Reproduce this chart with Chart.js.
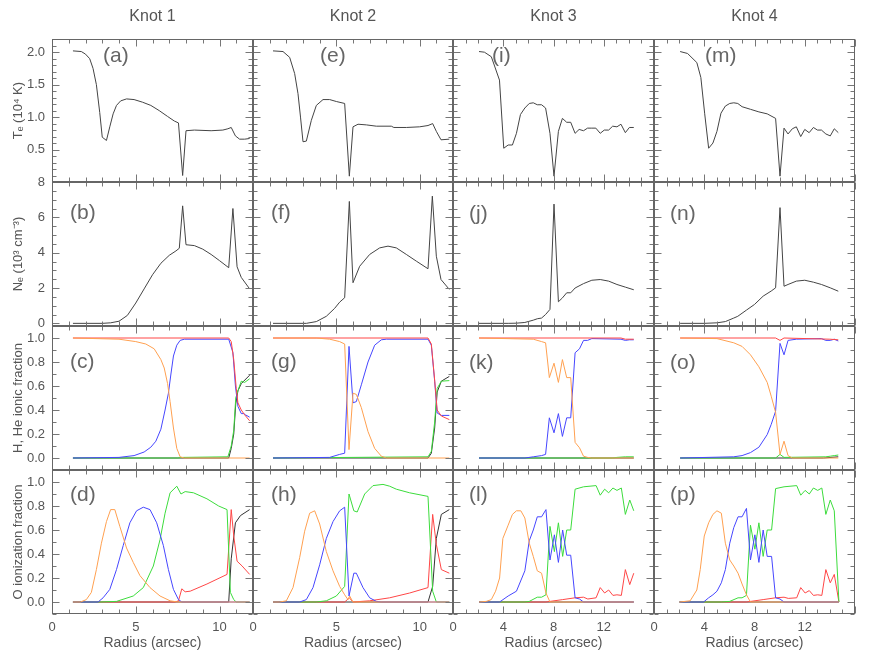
<!DOCTYPE html>
<html>
<head>
<meta charset="utf-8">
<script src="https://cdn.jsdelivr.net/npm/chart.js@4.4.1/dist/chart.umd.min.js"></script>
<style>
  body { margin: 0; background: #fff; }
  #wrap { position: relative; width: 872px; height: 654px; background: #fff; }
  #wrap canvas { position: absolute; }
</style>
</head>
<body>
<div id="wrap"></div>
<script>
// ---- data (radius in arcsec, value) ----
const knotNames = ['Knot 1', 'Knot 2', 'Knot 3', 'Knot 4'];
const panelLetters = [['(a)', '(b)', '(c)', '(d)'], ['(e)', '(f)', '(g)', '(h)'],
                      ['(i)', '(j)', '(k)', '(l)'], ['(m)', '(n)', '(o)', '(p)']];
const radiusMax = [12, 12, 16, 16];
const radiusTicks12 = [0, 5, 10];
const radiusTicks16 = [0, 4, 8, 12];
const teTicks = [0.5, 1.0, 1.5, 2.0];
const neTicks = [0, 2, 4, 6, 8];
const fracTicks = [0, 0.2, 0.4, 0.6, 0.8, 1.0];

// Knot 1
const k1Te = [[1.25,2.02],[1.75,2.01],[2.0,1.97],[2.25,1.9],[2.45,1.75],[2.65,1.5],[2.85,1.07],[3.0,0.69],[3.25,0.64],[3.45,0.85],[3.65,1.05],[3.85,1.18],[4.1,1.25],[4.45,1.28],[4.9,1.27],[5.4,1.23],[5.9,1.18],[6.4,1.1],[6.9,1.01],[7.3,0.94],[7.55,0.91],[7.8,0.1],[8.0,0.79],[8.5,0.8],[9.5,0.79],[10.2,0.8],[10.5,0.82],[10.7,0.84],[10.95,0.71],[11.2,0.66],[11.5,0.66],[11.8,0.67]];
const k1Ne = [[1.25,0],[3.0,0],[3.5,0.03],[4.0,0.12],[4.5,0.45],[5.0,1.15],[5.5,1.95],[6.0,2.75],[6.5,3.4],[7.0,3.85],[7.4,4.1],[7.6,4.25],[7.8,6.65],[8.0,4.45],[8.5,4.4],[9.0,4.2],[9.5,3.9],[10.0,3.55],[10.55,3.15],[10.8,6.5],[11.05,3.2],[11.3,2.6],[11.8,1.95]];
const k1HOrange = [[1.25,1],[4.0,0.99],[5.0,0.97],[5.6,0.95],[6.1,0.91],[6.5,0.82],[6.7,0.75],[6.9,0.62],[7.05,0.47],[7.25,0.25],[7.45,0.08],[7.65,0.01],[7.9,0],[11.8,0]];
const k1HBlue = [[1.25,0],[4.0,0.005],[4.9,0.02],[5.5,0.05],[5.9,0.09],[6.2,0.14],[6.5,0.24],[6.75,0.4],[6.95,0.54],[7.1,0.7],[7.25,0.85],[7.45,0.94],[7.65,0.98],[7.9,0.99],[10.55,0.99],[10.8,0.88],[10.95,0.6],[11.1,0.43],[11.3,0.37],[11.45,0.37],[11.55,0.36],[11.8,0.34]];
const k1HGreen = [[1.25,0],[7.5,0],[7.8,0.005],[10.5,0.01],[10.7,0.1],[10.85,0.23],[10.97,0.5],[11.1,0.56],[11.3,0.64],[11.5,0.63],[11.8,0.66]];
const k1HRed = [[1.25,1],[10.55,1],[10.7,0.97],[10.85,0.82],[11.0,0.58],[11.1,0.46],[11.3,0.4],[11.5,0.36],[11.8,0.31]];
const k1HBlack = [[1.25,0],[10.55,0],[10.7,0.08],[10.85,0.2],[10.97,0.45],[11.1,0.56],[11.3,0.62],[11.8,0.69]];
const k1OOrange = [[1.25,0],[1.7,0],[2.05,0.02],[2.35,0.08],[2.65,0.27],[2.95,0.49],[3.25,0.67],[3.5,0.77],[3.75,0.77],[4.05,0.63],[4.45,0.45],[4.85,0.33],[5.25,0.22],[5.85,0.12],[6.45,0.05],[7.05,0.01],[7.5,0],[11.8,0]];
const k1OBlue = [[1.25,0],[2.75,0],[3.05,0.035],[3.45,0.105],[3.85,0.27],[4.25,0.47],[4.65,0.66],[5.05,0.76],[5.45,0.79],[5.85,0.77],[6.25,0.66],[6.65,0.47],[6.95,0.27],[7.25,0.105],[7.55,0.02],[7.75,0],[11.8,0]];
const k1OGreen = [[1.25,0],[2.85,0],[3.85,0.005],[4.85,0.05],[5.45,0.12],[6.05,0.3],[6.45,0.52],[6.75,0.74],[7.05,0.91],[7.45,0.965],[7.7,0.9],[7.95,0.92],[8.45,0.91],[9.25,0.86],[9.95,0.8],[10.45,0.77],[10.65,0.08],[10.85,0.02],[11.0,0],[11.8,0]];
const k1ORed = [[1.25,0],[7.35,0],[7.55,0.01],[7.75,0.11],[7.95,0.085],[8.25,0.09],[9.25,0.15],[10.45,0.23],[10.7,0.77],[10.85,0.55],[11.05,0.34],[11.35,0.3],[11.8,0.23]];
const k1OBlack = [[1.25,0],[10.55,0],[10.7,0.36],[10.95,0.66],[11.25,0.72],[11.8,0.77]];

// Knot 2
const k2Te = [[1.2,2.02],[1.8,2.01],[2.2,1.92],[2.5,1.67],[2.7,1.36],[2.85,1.0],[3.0,0.62],[3.2,0.63],[3.5,0.95],[3.8,1.18],[4.2,1.27],[4.6,1.27],[5.0,1.24],[5.5,1.21],[5.78,0.09],[6.0,0.85],[6.3,0.89],[6.8,0.88],[7.4,0.86],[8.3,0.86],[8.45,0.84],[9.2,0.84],[10.0,0.85],[10.5,0.87],[10.78,0.9],[11.0,0.78],[11.28,0.65],[11.78,0.66]];
const k2Ne = [[1.2,0],[3.2,0],[3.8,0.1],[4.4,0.4],[4.9,0.85],[5.2,1.2],[5.5,1.45],[5.78,6.9],[6.0,2.3],[6.4,3.23],[7.0,3.9],[7.6,4.27],[8.1,4.37],[8.6,4.27],[9.2,3.9],[9.8,3.52],[10.5,3.09],[10.76,7.2],[11.0,3.8],[11.28,2.48],[11.78,1.92]];
const k2HOrange = [[1.2,1],[3.8,1],[4.6,0.99],[5.2,0.97],[5.5,0.95],[5.76,0.07],[6.0,0.54],[6.2,0.53],[6.5,0.42],[6.9,0.22],[7.3,0.08],[7.7,0.015],[8.0,0],[11.78,0]];
const k2HBlue = [[1.2,0],[4.6,0.005],[5.2,0.03],[5.5,0.04],[5.76,0.93],[6.0,0.46],[6.2,0.47],[6.5,0.61],[6.9,0.8],[7.3,0.94],[7.7,0.985],[8.0,0.99],[10.5,0.99],[10.7,0.94],[10.9,0.64],[11.05,0.375],[11.3,0.355],[11.78,0.355]];
const k2HGreen = [[1.2,0],[10.5,0.01],[10.7,0.055],[10.9,0.3],[11.05,0.58],[11.3,0.64],[11.78,0.645]];
const k2HRed = [[1.2,1],[10.5,1],[10.7,0.95],[10.9,0.65],[11.05,0.4],[11.3,0.35],[11.78,0.32]];
const k2HBlack = [[1.2,0],[10.5,0],[10.7,0.04],[10.9,0.25],[11.05,0.55],[11.3,0.64],[11.78,0.68]];
const k2OOrange = [[1.2,0],[1.6,0],[2.0,0.01],[2.4,0.12],[2.8,0.37],[3.1,0.59],[3.4,0.74],[3.7,0.76],[4.0,0.65],[4.4,0.42],[4.8,0.26],[5.2,0.13],[5.5,0.06],[5.7,0.02],[5.8,0.05],[6.0,0],[11.78,0]];
const k2OBlue = [[1.2,0],[2.8,0],[3.2,0.02],[3.6,0.12],[4.0,0.31],[4.4,0.53],[4.8,0.67],[5.2,0.76],[5.5,0.79],[5.76,0.05],[6.05,0.24],[6.2,0.24],[6.6,0.12],[7.0,0.035],[7.4,0.005],[7.7,0],[11.78,0]];
const k2OGreen = [[1.2,0],[3.8,0],[4.4,0.01],[5.0,0.05],[5.5,0.13],[5.76,0.9],[6.05,0.76],[6.25,0.75],[6.7,0.9],[7.2,0.97],[7.8,0.98],[8.2,0.965],[8.6,0.94],[9.4,0.91],[10.5,0.88],[10.78,0.09],[11.0,0],[11.78,0]];
const k2ORed = [[1.2,0],[5.5,0],[5.78,0.035],[6.0,0],[7.0,0.01],[8.2,0.035],[9.4,0.075],[10.5,0.12],[10.78,0.73],[11.0,0.48],[11.3,0.27],[11.78,0.24]];
const k2OBlack = [[1.2,0],[10.5,0],[10.78,0.13],[11.0,0.53],[11.3,0.73],[11.78,0.77]];

// Knot 3
const k3Te = [[2.07,2.01],[2.5,2.0],[3.05,1.93],[3.7,1.57],[4.04,0.52],[4.39,0.57],[4.73,0.57],[5.05,0.75],[5.37,1.04],[5.72,1.14],[6.07,1.21],[6.39,1.22],[6.71,1.19],[7.05,1.19],[7.37,1.14],[7.72,0.75],[8.04,0.09],[8.39,0.78],[8.71,0.98],[9.05,0.92],[9.37,0.92],[9.72,0.75],[10.04,0.81],[10.39,0.79],[10.71,0.83],[11.05,0.83],[11.37,0.83],[11.72,0.75],[12.04,0.8],[12.39,0.8],[12.71,0.86],[13.05,0.85],[13.37,0.89],[13.72,0.76],[14.04,0.84],[14.39,0.84]];
const k3Ne = [[2.07,0],[4.39,0],[5.05,0.01],[5.72,0.05],[6.39,0.18],[6.71,0.26],[7.05,0.3],[7.37,0.5],[7.72,0.79],[8.04,6.75],[8.39,1.22],[8.71,1.44],[9.05,1.73],[9.37,1.73],[9.72,2.0],[10.39,2.25],[11.05,2.44],[11.72,2.48],[12.39,2.39],[13.05,2.2],[13.72,2.05],[14.39,1.9]];
const k3HOrange = [[2.07,1],[6.39,0.99],[7.05,0.97],[7.37,0.96],[7.67,0.67],[8.04,0.79],[8.39,0.63],[8.71,0.82],[9.05,0.67],[9.37,0.67],[9.72,0.13],[10.07,0.085],[10.39,0.015],[10.71,0.005],[11.05,0],[14.39,0]];
const k3HBlue = [[2.07,0],[5.72,0],[6.39,0.01],[7.05,0.02],[7.37,0.03],[7.67,0.335],[8.04,0.21],[8.39,0.37],[8.71,0.18],[9.05,0.335],[9.37,0.335],[9.72,0.877],[10.07,0.91],[10.39,0.98],[10.71,0.98],[11.05,0.995],[13.37,0.99],[13.72,0.98],[14.04,0.985],[14.39,0.985]];
const k3HGreen = [[2.07,0],[12.7,0],[13.05,0.005],[13.72,0.01],[14.39,0.01]];
const k3HRed = [[2.07,1],[13.37,1],[13.72,0.99],[14.39,0.99]];
const k3HBlack = [[2.07,0],[14.39,0]];
const k3OOrange = [[2.07,0],[2.65,0.005],[3.05,0.02],[3.39,0.09],[3.71,0.2],[3.97,0.53],[4.39,0.64],[4.73,0.73],[5.05,0.76],[5.4,0.76],[5.72,0.7],[6.07,0.49],[6.39,0.38],[6.71,0.26],[7.05,0.24],[7.4,0.075],[7.72,0],[14.39,0]];
const k3OBlue = [[2.07,0],[3.71,0],[4.39,0.05],[5.05,0.09],[5.72,0.26],[6.07,0.51],[6.39,0.6],[6.71,0.71],[7.05,0.71],[7.4,0.77],[7.72,0.35],[8.07,0.56],[8.39,0.33],[8.73,0.6],[9.05,0.39],[9.37,0.39],[9.72,0.035],[10.07,0.025],[10.39,0],[14.39,0]];
const k3OGreen = [[2.07,0],[5.72,0],[6.07,0.005],[6.71,0.04],[7.05,0.04],[7.4,0.06],[7.72,0.63],[8.07,0.42],[8.39,0.66],[8.73,0.38],[9.05,0.6],[9.37,0.6],[9.72,0.94],[10.39,0.96],[11.39,0.97],[11.72,0.89],[12.07,0.94],[12.39,0.91],[12.73,0.95],[13.05,0.93],[13.4,0.95],[13.72,0.73],[14.07,0.85],[14.39,0.76]];
const k3ORed = [[2.07,0],[7.4,0],[7.72,0.005],[8.73,0.02],[9.72,0.035],[10.39,0.04],[10.73,0.025],[11.39,0.035],[11.72,0.12],[12.07,0.075],[12.39,0.1],[12.73,0.055],[13.05,0.06],[13.4,0.055],[13.72,0.27],[14.07,0.145],[14.39,0.24]];
const k3OBlack = [[2.07,0],[14.39,0]];

// Knot 4
const k4Te = [[2.08,2.01],[2.67,1.98],[3.41,1.84],[3.73,1.61],[4.03,1.06],[4.35,0.52],[4.69,0.6],[5.01,0.78],[5.33,1.06],[5.68,1.17],[6.03,1.21],[6.35,1.22],[6.67,1.21],[7.01,1.16],[7.68,1.12],[8.35,1.08],[9.01,1.05],[9.68,0.98],[10.03,0.09],[10.35,0.83],[10.67,0.74],[11.01,0.82],[11.33,0.85],[11.68,0.7],[12.0,0.81],[12.35,0.76],[12.69,0.84],[13.01,0.8],[13.33,0.8],[13.68,0.74],[14.03,0.71],[14.35,0.82],[14.67,0.76]];
const k4Ne = [[2.08,0],[4.0,0],[5.01,0.03],[5.68,0.1],[6.35,0.3],[6.67,0.4],[7.36,0.75],[8.0,1.07],[8.69,1.54],[9.33,1.83],[9.68,2.01],[10.03,6.55],[10.35,2.1],[10.67,2.2],[11.33,2.39],[12.0,2.44],[12.69,2.33],[13.33,2.2],[14.03,2.01],[14.67,1.82]];
const k4HOrange = [[2.08,1],[5.01,0.995],[6.35,0.96],[7.01,0.93],[7.68,0.86],[8.35,0.76],[9.01,0.63],[9.33,0.515],[9.68,0.38],[10.03,0.03],[10.35,0.14],[10.67,0.02],[11.01,0],[14.67,0]];
const k4HBlue = [[2.08,0],[6.35,0.01],[7.01,0.02],[7.68,0.045],[8.35,0.09],[9.01,0.195],[9.33,0.28],[9.68,0.39],[10.03,0.955],[10.35,0.86],[10.67,0.98],[11.33,0.99],[13.33,0.995],[13.68,0.98],[14.03,0.98],[14.35,0.99],[14.67,0.975]];
const k4HGreen = [[2.08,0],[9.68,0],[10.03,0.03],[10.35,0.005],[13.68,0.01],[14.03,0.015],[14.35,0.02],[14.67,0.025]];
const k4HRed = [[2.08,1],[9.68,1],[10.03,0.98],[10.35,1],[14.0,0.99],[14.67,0.985]];
const k4HBlack = [[2.08,0],[13.5,0],[14.67,0.01]];
const k4OOrange = [[2.03,0],[2.88,0.01],[3.41,0.1],[3.68,0.27],[4.0,0.55],[4.35,0.66],[4.69,0.73],[5.01,0.76],[5.36,0.74],[5.68,0.49],[6.03,0.35],[6.35,0.3],[6.69,0.24],[7.01,0.15],[7.36,0.06],[7.68,0],[14.72,0]];
const k4OBlue = [[2.03,0],[3.95,0],[4.35,0.035],[4.69,0.06],[5.01,0.09],[5.36,0.16],[5.68,0.27],[6.03,0.49],[6.35,0.62],[6.69,0.71],[7.01,0.71],[7.36,0.78],[7.68,0.35],[8.03,0.56],[8.35,0.33],[8.69,0.6],[9.01,0.38],[9.36,0.38],[9.68,0.035],[10.03,0.025],[10.35,0],[14.72,0]];
const k4OGreen = [[2.03,0],[5.36,0],[6.03,0.005],[6.69,0.035],[7.01,0.035],[7.36,0.055],[7.68,0.64],[8.03,0.44],[8.35,0.66],[8.69,0.38],[9.01,0.6],[9.36,0.6],[9.68,0.945],[10.35,0.96],[11.36,0.97],[11.68,0.89],[12.03,0.93],[12.36,0.9],[12.69,0.95],[13.03,0.93],[13.36,0.95],[13.68,0.73],[14.03,0.85],[14.35,0.76],[14.72,0]];
const k4ORed = [[2.03,0],[7.36,0],[8.69,0.02],[9.68,0.035],[10.35,0.04],[10.69,0.03],[11.36,0.035],[11.68,0.12],[12.03,0.075],[12.36,0.095],[12.69,0.055],[13.03,0.06],[13.36,0.055],[13.68,0.27],[14.03,0.16],[14.35,0.23],[14.72,0]];
const k4OBlack = [[2.03,0],[14.72,0]];

const teData = [k1Te, k2Te, k3Te, k4Te];
const neData = [k1Ne, k2Ne, k3Ne, k4Ne];
const hHeData = [
  [k1HOrange, k1HRed, k1HBlue, k1HGreen, k1HBlack],
  [k2HOrange, k2HRed, k2HBlue, k2HGreen, k2HBlack],
  [k3HOrange, k3HRed, k3HBlue, k3HGreen, k3HBlack],
  [k4HOrange, k4HRed, k4HBlue, k4HGreen, k4HBlack]
];
const oData = [
  [k1OOrange, k1OBlue, k1OGreen, k1ORed, k1OBlack],
  [k2OOrange, k2OBlue, k2OGreen, k2ORed, k2OBlack],
  [k3OOrange, k3OBlue, k3OGreen, k3ORed, k3OBlack],
  [k4OOrange, k4OBlue, k4OGreen, k4ORed, k4OBlack]
];
const hHeColors = ['#ffa050', '#ff4646', '#4646ff', '#3cdc3c', '#333333'];
const oColors = ['#ffa050', '#4646ff', '#3cdc3c', '#ff4646', '#333333'];

// ---- layout ----
const TEXT = '#555';
Chart.defaults.font.family = '"Liberation Sans", Arial, sans-serif';
Chart.defaults.color = TEXT;

const colEdges = [52, 253, 453, 654, 855];
const rowEdges = [38, 182, 326, 470, 614];

// row settings: y range, major/minor ticks, title, label ticks
const rows = [
  { min: 0, max: 2.2, major: 0.5, minor: 0.1, ticks: teTicks, fmt: v => v.toFixed(1), title: 'Tₑ (10⁴ K)' },
  { min: -0.15, max: 8, major: 2, minor: 0.5, ticks: neTicks, fmt: v => String(v), title: 'Nₑ (10³ cm⁻³)' },
  { min: -0.1, max: 1.1, major: 0.2, minor: 0.1, ticks: fracTicks, fmt: v => v.toFixed(1), title: 'H, He ionic fraction' },
  { min: -0.1, max: 1.1, major: 0.2, minor: 0.1, ticks: fracTicks, fmt: v => v.toFixed(1), title: 'O ionization fraction' }
];
// letter offsets inside each panel
const letterPos = [[[51, 17], [18, 31], [18, 36], [18, 25]],
                   [[67, 17], [18, 31], [18, 36], [18, 25]],
                   [[39, 17], [16, 32], [16, 37], [16, 25]],
                   [[51, 17], [16, 32], [16, 37], [16, 25]]];

function onStep(v, step) {
  const q = v / step;
  return Math.abs(q - Math.round(q)) < 1e-6;
}

const framePlugin = {
  id: 'frame',
  afterDatasetsDraw(chart, args, o) {
    const { ctx, chartArea: a, scales: { x, y } } = chart;
    const L = Math.round(a.left) + 0.5, R = Math.round(a.right) - 0.5;
    const T = Math.round(a.top) + 0.5, B = Math.round(a.bottom) - 0.5;
    ctx.save();
    ctx.strokeStyle = '#777';
    ctx.lineWidth = 1;
    ctx.beginPath();
    for (let i = Math.ceil(x.min); i <= Math.floor(x.max); i++) {
      const px = Math.round(x.getPixelForValue(i)) + 0.5;
      const len = onStep(i, o.xMajor) ? 7 : 4;
      ctx.moveTo(px, B); ctx.lineTo(px, B - len);
      ctx.moveTo(px, T); ctx.lineTo(px, T + len);
    }
    for (let i = Math.ceil(y.min / o.yMinor - 1e-6); i * o.yMinor <= y.max + 1e-9; i++) {
      const v = i * o.yMinor;
      const py = Math.round(y.getPixelForValue(v)) + 0.5;
      const len = onStep(v, o.yMajor) ? 7 : 4;
      ctx.moveTo(L, py); ctx.lineTo(L + len, py);
      ctx.moveTo(R, py); ctx.lineTo(R - len, py);
    }
    ctx.stroke();
    ctx.strokeStyle = '#666';
    ctx.strokeRect(L, T, R - L, B - T);
    ctx.fillStyle = '#666';
    ctx.font = '21px "Liberation Sans", Arial, sans-serif';
    ctx.textBaseline = 'middle';
    ctx.textAlign = 'left';
    ctx.fillText(o.letter, a.left + o.dx, a.top + o.dy);
    ctx.restore();
  }
};
Chart.register(framePlugin);

const wrap = document.getElementById('wrap');

function makePanel(c, r, datasets) {
  const row = rows[r];
  const cl = c === 0 ? 0 : colEdges[c] - 15;
  const cr = Math.min(872, colEdges[c + 1] + 15);
  const ct = r === 0 ? 0 : rowEdges[r] - 12;
  const cb = r === 3 ? 654 : rowEdges[r + 1] + 12;
  const canvas = document.createElement('canvas');
  canvas.width = cr - cl;
  canvas.height = cb - ct;
  canvas.style.left = cl + 'px';
  canvas.style.top = ct + 'px';
  canvas.style.width = (cr - cl) + 'px';
  canvas.style.height = (cb - ct) + 'px';
  wrap.appendChild(canvas);

  const xTicks = radiusMax[c] === 12 ? radiusTicks12 : radiusTicks16;
  const showX = r === 3;
  const showY = c === 0;

  new Chart(canvas, {
    type: 'line',
    data: { datasets },
    options: {
      responsive: false,
      devicePixelRatio: 1,
      animation: false,
      events: [],
      parsing: false,
      layout: {
        padding: {
          left: showY ? 0 : 15,
          right: cr - colEdges[c + 1],
          top: r === 0 ? 0 : 12,
          bottom: showX ? 0 : 12
        }
      },
      elements: { point: { radius: 0 }, line: { borderWidth: 1, tension: 0 } },
      plugins: {
        legend: { display: false },
        tooltip: { enabled: false },
        title: {
          display: r === 0,
          fullSize: false,
          text: knotNames[c],
          color: TEXT,
          font: { size: 16, weight: 'normal' },
          padding: { top: 7, bottom: 13 }
        },
        frame: {
          xMajor: radiusMax[c] === 12 ? 5 : 4,
          yMajor: row.major,
          yMinor: row.minor,
          letter: panelLetters[c][r],
          dx: letterPos[c][r][0],
          dy: letterPos[c][r][1]
        }
      },
      scales: {
        x: {
          type: 'linear',
          min: 0,
          max: radiusMax[c],
          display: showX,
          grid: { display: false, drawTicks: false },
          border: { display: false },
          ticks: { font: { size: 13 }, color: TEXT, padding: 6, maxRotation: 0,
                   callback: v => String(v) },
          afterBuildTicks: s => { s.ticks = xTicks.map(v => ({ value: v })); },
          afterFit: s => {
            if (!showX) return;
            s.height = 654 - rowEdges[4]; s.paddingLeft = 0; s.paddingRight = 0;
          },
          title: { display: true, text: 'Radius (arcsec)', color: TEXT, font: { size: 14 },
                   padding: { top: 0, bottom: 2 } }
        },
        y: {
          type: 'linear',
          min: row.min,
          max: row.max,
          display: showY,
          grid: { display: false, drawTicks: false },
          border: { display: false },
          ticks: { font: { size: 13 }, color: TEXT, padding: 7, callback: v => row.fmt(v) },
          afterBuildTicks: s => { s.ticks = row.ticks.map(v => ({ value: v })); },
          afterFit: s => {
            if (!showY) return;
            s.width = colEdges[0]; s.paddingTop = 0; s.paddingBottom = 0;
          },
          title: { display: true, text: row.title, color: TEXT, font: { size: 13 },
                   padding: { top: 11, bottom: 0 } }
        }
      }
    }
  });
}

function toPoints(pairs) {
  return pairs.map(p => ({ x: p[0], y: p[1] }));
}

for (let c = 0; c < 4; c++) {
  makePanel(c, 0, [{ data: toPoints(teData[c]), borderColor: '#444' }]);
  makePanel(c, 1, [{ data: toPoints(neData[c]), borderColor: '#444' }]);
  makePanel(c, 2, hHeData[c].map((s, i) => ({ data: toPoints(s), borderColor: hHeColors[i] })));
  makePanel(c, 3, oData[c].map((s, i) => ({ data: toPoints(s), borderColor: oColors[i] })));
}
</script>
</body>
</html>
